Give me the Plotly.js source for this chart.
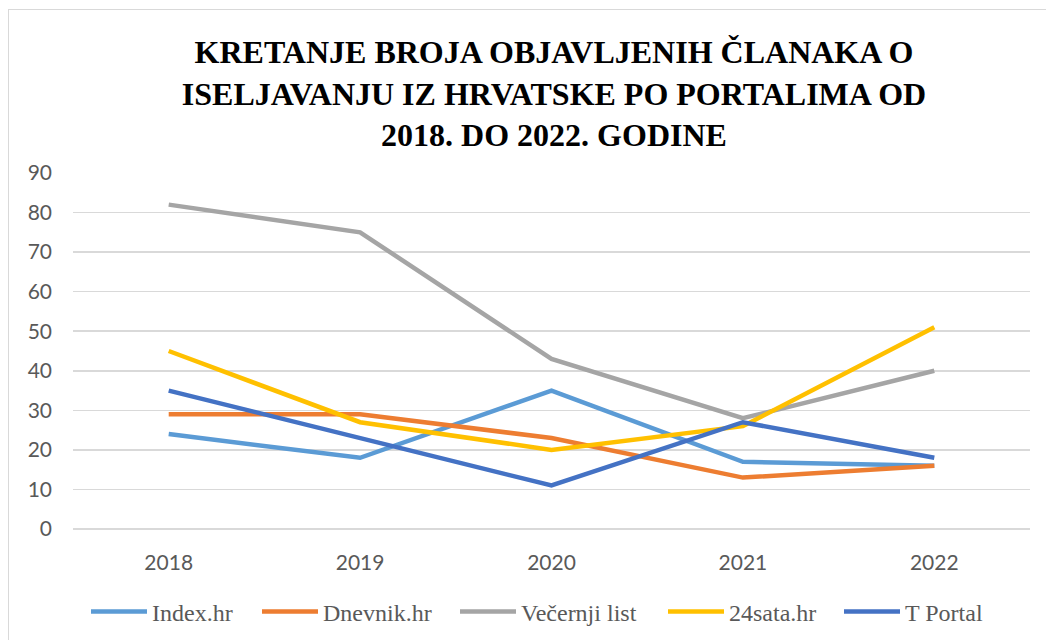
<!DOCTYPE html>
<html>
<head>
<meta charset="utf-8">
<script src="https://cdn.plot.ly/plotly-3.0.1.min.js"></script>
<style>
  html, body { margin: 0; padding: 0; background: #ffffff; }
  #wrap { position: relative; width: 1046px; height: 640px; overflow: hidden; }
  #chart { position: absolute; left: 0; top: 0; width: 1046px; height: 640px; }
  #frame { position: absolute; left: 8px; top: 9px; width: 1100px; height: 700px;
           border-left: 1.5px solid #d9d9d9; border-top: 1.5px solid #d9d9d9; pointer-events: none; }
</style>
</head>
<body>
<div id="wrap">
  <div id="chart"></div>
  <div id="frame"></div>
</div>
<script>
const years = ['2018', '2019', '2020', '2021', '2022'];
const seriesNames = ['Index.hr', 'Dnevnik.hr', 'Večernji list', '24sata.hr', 'T Portal'];
const indexHr   = [24, 18, 35, 17, 16];
const dnevnikHr = [29, 29, 23, 13, 16];
const vecernji  = [82, 75, 43, 28, 40];
const sata24    = [45, 27, 20, 26, 51];
const tPortal   = [35, 23, 11, 27, 18];
const yTicks = [0, 10, 20, 30, 40, 50, 60, 70, 80, 90];

const values = [indexHr, dnevnikHr, vecernji, sata24, tPortal];
const colors = ['#5B9BD5', '#ED7D31', '#A5A5A5', '#FFC000', '#4472C4'];
const serif = "'Liberation Serif', 'Times New Roman', serif";
const sans = "Lato, 'Open Sans', sans-serif";

// legend entry left edges (pixels) — layout only
const legendLeft = [92, 263, 461, 669, 845];
const legendIds = ['legend', 'legend2', 'legend3', 'legend4', 'legend5'];

const traces = values.map((v, i) => ({
  type: 'scatter',
  mode: 'lines',
  name: seriesNames[i],
  x: years,
  y: v,
  legend: legendIds[i],
  line: { color: colors[i], width: 4.5, shape: 'linear' },
  hoverinfo: 'x+y+name'
}));

const layout = {
  width: 1046,
  height: 640,
  margin: { l: 73, r: 16, t: 173, b: 111 },
  paper_bgcolor: '#ffffff',
  plot_bgcolor: '#ffffff',
  showlegend: true,
  title: {
    text: 'KRETANJE BROJA OBJAVLJENIH ČLANAKA O<br>ISELJAVANJU IZ HRVATSKE PO PORTALIMA OD<br>2018. DO 2022. GODINE',
    font: { family: serif, size: 32, color: '#000000', weight: 700 },
    x: 554 / 1046, xref: 'container', xanchor: 'center',
    y: 1 - 63 / 640, yref: 'container', yanchor: 'middle'
  },
  xaxis: {
    type: 'category',
    range: [-0.5, 4.5],
    showgrid: false,
    zeroline: false,
    showline: false,
    ticks: '',
    ticklabelstandoff: 19,
    tickfont: { family: sans, size: 21, color: '#595959' }
  },
  yaxis: {
    range: [0, 90],
    tickvals: yTicks,
    ticktext: yTicks.map(String),
    showgrid: true,
    gridcolor: '#d9d9d9',
    gridwidth: 1.5,
    zeroline: true,
    zerolinecolor: '#d9d9d9',
    zerolinewidth: 1.5,
    showline: false,
    ticks: '',
    ticklabelstandoff: 20,
    tickfont: { family: sans, size: 21, color: '#595959' }
  }
};

legendIds.forEach((id, i) => {
  layout[id] = {
    orientation: 'h',
    xref: 'container', yref: 'container',
    x: (legendLeft[i] - 6) / 1046, xanchor: 'left',
    y: 1 - 612 / 640, yanchor: 'middle',
    itemwidth: 56,
    font: { family: serif, size: 24, color: '#595959' },
    bgcolor: 'rgba(0,0,0,0)',
    borderwidth: 0
  };
});

Plotly.newPlot('chart', traces, layout, { displayModeBar: false, staticPlot: true });
</script>
</body>
</html>
